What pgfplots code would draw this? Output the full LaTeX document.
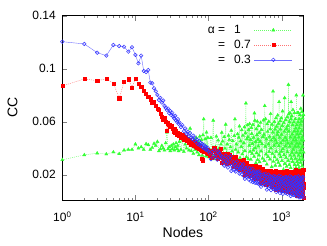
\documentclass[border=0pt]{standalone}
\usepackage{fontspec}
\setmainfont{Liberation Sans}
\usepackage{pgfplots}
\usepackage{pgfplotstable}
\pgfplotsset{compat=1.18}
\definecolor{gg}{rgb}{0.2,1,0.2}
\definecolor{rr}{rgb}{1,0,0}
\definecolor{bb}{rgb}{0.2,0.2,1}
\pgfplotstableread{
x g r b
1 0.0313 0.0870 0.1204
2 0.0350 0.0923 0.1187
3 0.0363 0.0910 0.1121
4 0.0356 0.0923 0.1099
5 0.0371 0.0890 0.1179
6 0.0358 0.0778 0.1171
7 0.0386 0.0900 0.1166
8 0.0390 0.0921 0.1129
9 0.0390 0.0860 0.1162
10 0.0431 0.0925 0.1104
11 0.0400 0.0890 0.1041
12 0.0410 0.0866 0.1099
13 0.0390 0.0835 0.0983
14 0.0433 0.0810 0.0975
15 0.0426 0.0790 0.0990
16 0.0390 0.0770 0.0895
17 0.0405 0.0745 0.0890
18 0.0436 0.0750 0.0853
19 0.0420 0.0720 0.0830
20 0.0450 0.0700 0.0803
21 0.0380 0.0690 0.0765
22 0.0395 0.0660 0.0780
23 0.0420 0.0640 0.0745
24 0.0400 0.0614 0.0760
25 0.0385 0.0630 0.0720
26 0.0440 0.0600 0.0705
27 0.0520 0.0530 0.0690
28 0.0395 0.0590 0.0700
29 0.0410 0.0575 0.0665
30 0.0380 0.0560 0.0680
31 0.0420 0.0570 0.0650
32 0.0395 0.0545 0.0668
33 0.0430 0.0526 0.0640
34 0.0385 0.0550 0.0625
35 0.0410 0.0520 0.0645
36 0.0440 0.0535 0.0610
37 0.0395 0.0505 0.0600
38 0.0420 0.0520 0.0620
39 0.0380 0.0495 0.0585
40 0.0450 0.0510 0.0595
42 0.0390 0.0480 0.0560
44 0.0460 0.0500 0.0575
46 0.0375 0.0465 0.0530
48 0.0430 0.0485 0.0550
50 0.0400 0.0455 0.0510
52 0.0470 0.0470 0.0525
54 0.0385 0.0440 0.0490
56 0.0550 0.0462 0.0515
58 0.0380 0.0430 0.0480
60 0.0445 0.0450 0.0470
62 0.0360 0.0420 0.0495
64 0.0460 0.0440 0.0460
66 0.0390 0.0412 0.0475
68 0.0480 0.0432 0.0445
70 0.0370 0.0405 0.0465
72 0.0450 0.0425 0.0430
74 0.0350 0.0398 0.0455
76 0.0490 0.0418 0.0425
78 0.0380 0.0390 0.0440
80 0.0465 0.0320 0.0415
82 0.0345 0.0385 0.0435
84 0.0500 0.0310 0.0405
86 0.0620 0.0378 0.0425
88 0.0370 0.0398 0.0398
90 0.0470 0.0372 0.0415
92 0.0340 0.0392 0.0390
94 0.0520 0.0365 0.0410
96 0.0365 0.0388 0.0385
98 0.0480 0.0360 0.0402
100 0.0335 0.0382 0.0378
104 0.0390 0.0344 0.0362
108 0.0480 0.0368 0.0318
112 0.0350 0.0332 0.0374
116 0.0610 0.0380 0.0342
120 0.0320 0.0400 0.0386
124 0.0410 0.0348 0.0330
128 0.0490 0.0360 0.0354
132 0.0370 0.0320 0.0314
136 0.0460 0.0384 0.0378
140 0.0400 0.0340 0.0366
144 0.0340 0.0372 0.0326
148 0.0430 0.0396 0.0346
152 0.0519 0.0289 0.0336
156 0.0453 0.0330 0.0282
160 0.0332 0.0316 0.0309
164 0.0486 0.0357 0.0269
168 0.0398 0.0298 0.0323
172 0.0580 0.0343 0.0345
176 0.0365 0.0285 0.0287
180 0.0431 0.0325 0.0300
184 0.0321 0.0361 0.0255
188 0.0497 0.0307 0.0327
192 0.0464 0.0348 0.0278
196 0.0354 0.0321 0.0314
200 0.0409 0.0294 0.0341
205 0.0534 0.0304 0.0229
210 0.0378 0.0336 0.0270
215 0.0456 0.0309 0.0256
220 0.0339 0.0259 0.0297
225 0.0495 0.0322 0.0238
230 0.0620 0.0286 0.0283
235 0.0391 0.0336 0.0225
240 0.0430 0.0273 0.0265
245 0.0300 0.0300 0.0301
250 0.0508 0.0255 0.0247
255 0.0370 0.0302 0.0263
260 0.0482 0.0288 0.0236
265 0.0566 0.0243 0.0209
270 0.0328 0.0266 0.0249
275 0.0454 0.0306 0.0280
280 0.0412 0.0252 0.0254
285 0.0538 0.0279 0.0204
290 0.0356 0.0239 0.0267
295 0.0496 0.0293 0.0231
300 0.0314 0.0315 0.0280
305 0.0440 0.0237 0.0190
310 0.0560 0.0250 0.0220
315 0.0380 0.0205 0.0170
320 0.0515 0.0277 0.0250
325 0.0740 0.0228 0.0235
330 0.0335 0.0264 0.0185
335 0.0470 0.0290 0.0210
340 0.0575 0.0214 0.0255
345 0.0485 0.0255 0.0195
350 0.0320 0.0241 0.0225
355 0.0540 0.0267 0.0165
360 0.0420 0.0208 0.0225
365 0.0585 0.0253 0.0250
370 0.0375 0.0195 0.0185
375 0.0465 0.0235 0.0200
380 0.0315 0.0271 0.0150
385 0.0555 0.0217 0.0230
390 0.0510 0.0258 0.0175
395 0.0360 0.0231 0.0215
400 0.0435 0.0204 0.0245
405 0.0578 0.0230 0.0145
410 0.0386 0.0265 0.0190
415 0.0482 0.0235 0.0175
420 0.0338 0.0180 0.0220
425 0.0665 0.0250 0.0155
430 0.0610 0.0210 0.0205
435 0.0402 0.0265 0.0140
440 0.0450 0.0195 0.0185
445 0.0290 0.0225 0.0225
450 0.0546 0.0175 0.0165
455 0.0365 0.0245 0.0203
460 0.0501 0.0230 0.0170
465 0.0603 0.0180 0.0137
470 0.0314 0.0205 0.0186
475 0.0467 0.0250 0.0225
480 0.0416 0.0190 0.0192
485 0.0569 0.0220 0.0131
490 0.0348 0.0175 0.0208
495 0.0518 0.0235 0.0164
500 0.0297 0.0260 0.0225
508 0.0450 0.0179 0.0133
516 0.0594 0.0195 0.0166
524 0.0378 0.0140 0.0110
532 0.0540 0.0228 0.0199
540 0.0432 0.0168 0.0182
548 0.0324 0.0212 0.0127
556 0.0486 0.0245 0.0155
564 0.0612 0.0151 0.0204
572 0.0504 0.0201 0.0138
580 0.0306 0.0184 0.0171
588 0.0720 0.0234 0.0122
596 0.0414 0.0162 0.0188
604 0.0621 0.0204 0.0208
612 0.0355 0.0126 0.0130
620 0.0469 0.0180 0.0148
628 0.0279 0.0228 0.0088
636 0.0583 0.0156 0.0184
644 0.0526 0.0210 0.0118
652 0.0336 0.0174 0.0166
660 0.0431 0.0138 0.0202
668 0.0602 0.0192 0.0100
676 0.0374 0.0234 0.0154
684 0.0488 0.0198 0.0136
692 0.0317 0.0132 0.0190
700 0.0545 0.0216 0.0112
708 0.0660 0.0157 0.0162
716 0.0400 0.0229 0.0084
724 0.0460 0.0138 0.0138
732 0.0260 0.0177 0.0186
740 0.0580 0.0112 0.0114
748 0.0360 0.0216 0.0168
756 0.0520 0.0196 0.0132
764 0.0830 0.0131 0.0096
772 0.0300 0.0164 0.0150
780 0.0480 0.0222 0.0192
788 0.0420 0.0144 0.0156
796 0.0600 0.0183 0.0090
804 0.0334 0.0111 0.0167
812 0.0544 0.0195 0.0115
820 0.0271 0.0230 0.0187
828 0.0460 0.0139 0.0096
836 0.0628 0.0160 0.0135
844 0.0376 0.0090 0.0070
852 0.0565 0.0202 0.0174
860 0.0439 0.0125 0.0154
868 0.0313 0.0181 0.0089
876 0.0502 0.0223 0.0122
884 0.0649 0.0104 0.0180
892 0.0523 0.0167 0.0102
900 0.0292 0.0146 0.0141
908 0.0586 0.0209 0.0083
916 0.0418 0.0118 0.0160
924 0.0750 0.0188 0.0193
932 0.0355 0.0097 0.0109
940 0.0481 0.0160 0.0128
948 0.0271 0.0216 0.0063
956 0.0607 0.0132 0.0167
964 0.0544 0.0195 0.0096
972 0.0334 0.0153 0.0148
980 0.0439 0.0111 0.0187
988 0.0628 0.0174 0.0076
996 0.0376 0.0223 0.0135
1000 0.0504 0.0174 0.0106
1010 0.0306 0.0086 0.0169
1020 0.0570 0.0198 0.0078
1030 0.0680 0.0134 0.0148
1040 0.0394 0.0222 0.0057
1050 0.0460 0.0110 0.0120
1060 0.0240 0.0158 0.0176
1070 0.0592 0.0078 0.0092
1080 0.0350 0.0206 0.0155
1090 0.0526 0.0182 0.0113
1100 0.0780 0.0102 0.0071
1110 0.0284 0.0142 0.0134
1120 0.0482 0.0214 0.0183
1130 0.0416 0.0118 0.0141
1140 0.0614 0.0166 0.0064
1150 0.0328 0.0094 0.0162
1160 0.0548 0.0190 0.0106
1170 0.0262 0.0230 0.0183
1180 0.0460 0.0126 0.0085
1190 0.0636 0.0150 0.0127
1200 0.0372 0.0070 0.0057
1210 0.0570 0.0198 0.0169
1220 0.0438 0.0110 0.0148
1230 0.0306 0.0174 0.0078
1240 0.0880 0.0222 0.0113
1250 0.0658 0.0086 0.0176
1260 0.0529 0.0154 0.0085
1270 0.0276 0.0128 0.0130
1280 0.0598 0.0205 0.0063
1290 0.0414 0.0094 0.0153
1300 0.0667 0.0179 0.0190
1310 0.0345 0.0070 0.0093
1320 0.0483 0.0145 0.0115
1330 0.0253 0.0213 0.0040
1340 0.0621 0.0111 0.0160
1350 0.0750 0.0188 0.0078
1360 0.0322 0.0137 0.0138
1370 0.0437 0.0086 0.0183
1380 0.0644 0.0162 0.0055
1390 0.0368 0.0222 0.0123
1400 0.0506 0.0171 0.0100
1410 0.0299 0.0077 0.0168
1420 0.0575 0.0196 0.0070
1430 0.0690 0.0128 0.0145
1440 0.0391 0.0222 0.0048
1450 0.0460 0.0103 0.0115
1460 0.0230 0.0154 0.0175
1470 0.0598 0.0069 0.0085
1480 0.0345 0.0205 0.0153
1490 0.0529 0.0179 0.0108
1500 0.0667 0.0094 0.0063
1510 0.0276 0.0130 0.0126
1520 0.0483 0.0216 0.0182
1530 0.0414 0.0102 0.0134
1540 0.0621 0.0159 0.0046
1550 0.0322 0.0074 0.0158
1560 0.0552 0.0188 0.0094
1570 0.0253 0.0235 0.0182
1580 0.0460 0.0112 0.0070
1590 0.0800 0.0140 0.0118
1600 0.0368 0.0045 0.0038
1610 0.0575 0.0197 0.0166
1620 0.0437 0.0093 0.0142
1630 0.0299 0.0169 0.0062
1640 0.0506 0.0226 0.0102
1650 0.0667 0.0064 0.0174
1660 0.0529 0.0150 0.0078
1670 0.0276 0.0121 0.0126
1680 0.0598 0.0207 0.0054
1690 0.0414 0.0083 0.0150
1700 0.0667 0.0178 0.0190
1710 0.0345 0.0055 0.0086
1720 0.0483 0.0140 0.0110
1730 0.0253 0.0216 0.0030
1740 0.0621 0.0102 0.0158
1750 0.0552 0.0188 0.0070
1760 0.0316 0.0125 0.0131
1770 0.0436 0.0062 0.0182
1780 0.0652 0.0156 0.0037
1790 0.0364 0.0230 0.0114
1800 0.0508 0.0167 0.0088
1810 0.0292 0.0051 0.0165
1820 0.0580 0.0198 0.0054
1830 0.0700 0.0114 0.0139
1840 0.0388 0.0230 0.0030
1850 0.0460 0.0083 0.0105
1860 0.0220 0.0146 0.0173
1870 0.0604 0.0040 0.0071
1880 0.0340 0.0209 0.0148
1890 0.0532 0.0177 0.0097
1900 0.0676 0.0072 0.0046
1910 0.0268 0.0125 0.0122
1920 0.0484 0.0219 0.0182
1930 0.0412 0.0093 0.0131
1940 0.0628 0.0156 0.0037
1950 0.0316 0.0062 0.0156
1960 0.0800 0.0188 0.0088
1970 0.0244 0.0240 0.0182
1980 0.0460 0.0104 0.0063
1990 0.0652 0.0135 0.0114
2000 0.0370 0.0030 0.0029
}\data
\begin{document}
\begin{tikzpicture}
\begin{axis}[
  scale only axis,
  width=241.3pt, height=184.3pt,
  xmode=log, xmin=1, xmax=2000,
  ymin=0.001, ymax=0.14,
  xtick={1,10,100,1000},
  xticklabels={10\textsuperscript{0},10\textsuperscript{1},10\textsuperscript{2},10\textsuperscript{3}},
  ytick={0.02,0.06,0.1,0.14},
  yticklabels={0.02,0.06,0.1,0.14},
  tick label style={font=\fontsize{12}{14}\selectfont},
  xticklabel style={yshift=-8pt},
  yticklabel style={xshift=-3pt},
  label style={font=\fontsize{14}{16}\selectfont},
  xlabel={Nodes}, ylabel={CC},
  xlabel style={yshift=1pt},
  ylabel style={yshift=8pt},
  tick align=inside,
  major tick length=5pt, minor tick length=2.5pt,
  axis line style={line width=0.6pt},
  legend style={at={(0.955,0.96)}, anchor=north east, draw=none, fill=none,
    font=\fontsize{12}{14}\selectfont, row sep=1pt, inner sep=0pt},
  legend cell align=left,
  legend plot pos=right,
  legend image code/.code={\draw[mark repeat=2,mark phase=2] plot coordinates {(0pt,0pt) (19pt,0pt) (38pt,0pt)};},
]
\addplot[color=gg!75, line width=0.4pt, dash pattern=on 1pt off 1pt, mark=triangle*, mark size=1.8pt, mark options={solid, draw=gg, fill=gg}] table[x=x,y=g]{\data};
\addlegendentry{\makebox[18pt][r]{α =}\hspace{9pt}\makebox[18pt][l]{1}}
\addplot[color=rr!55, line width=0.4pt, dash pattern=on 1pt off 1pt, mark=square*, mark size=1.6pt, mark options={solid, draw=rr, fill=rr}] table[x=x,y=r]{\data};
\addlegendentry{\makebox[18pt][r]{=}\hspace{9pt}\makebox[18pt][l]{0.7}}
\addplot[color=bb!70, line width=0.4pt, mark=o, mark size=1.8pt, mark options={solid, draw=bb, line width=0.5pt}] table[x=x,y=b]{\data};
\addlegendentry{\makebox[18pt][r]{=}\hspace{9pt}\makebox[18pt][l]{0.3}}
\end{axis}
\pgfresetboundingbox
\path[use as bounding box] ([xshift=-62.3pt,yshift=-45pt]current axis.south west) rectangle ([xshift=23.4pt,yshift=15.7pt]current axis.north east);
\end{tikzpicture}
\end{document}
